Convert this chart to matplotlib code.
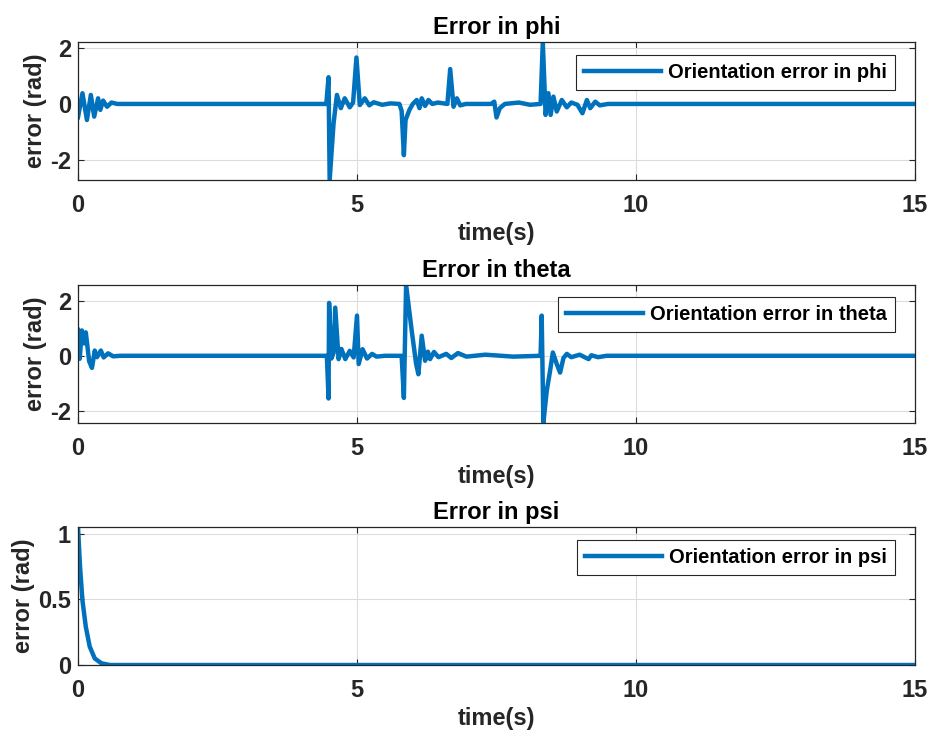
import matplotlib
matplotlib.use('Agg')
import matplotlib.pyplot as plt

plt.rcParams['font.family'] = ['Liberation Sans', 'DejaVu Sans']
plt.rcParams['font.weight'] = 'bold'
plt.rcParams['axes.unicode_minus'] = False

# (time in s, error in rad)
t_phi = [0.00, 0.08, 0.16, 0.23, 0.29, 0.36, 0.40, 0.45, 0.52, 0.60, 0.70,
         4.45, 4.49, 4.51, 4.58, 4.64, 4.71, 4.78, 4.87, 4.93, 4.99, 5.05, 5.14, 5.22, 5.30, 5.45, 5.60,
         5.76, 5.80, 5.84, 5.87, 5.94, 6.00, 6.07, 6.12, 6.16, 6.22, 6.28, 6.35, 6.45, 6.62,
         6.67, 6.73, 6.79, 6.85, 6.95, 7.40, 7.46, 7.50, 7.56, 7.65, 7.90, 8.10, 8.29,
         8.33, 8.38, 8.43, 8.47, 8.52, 8.58, 8.67, 8.76, 8.84, 8.95, 9.04, 9.12, 9.18, 9.27, 9.35, 9.50, 15.0]
e_phi = [-0.47, 0.38, -0.57, 0.32, -0.45, 0.20, -0.21, 0.12, -0.10, 0.05, 0.00,
         0.00, 0.95, -2.70, -0.69, 0.32, -0.15, 0.20, -0.12, 0.05, 1.65, -0.04, 0.20, -0.05, 0.06, -0.03, 0.02,
         0.00, -0.25, -1.82, -0.57, -0.21, 0.00, 0.14, -0.15, 0.20, -0.07, 0.14, 0.00, 0.05, 0.00,
         1.24, -0.10, 0.20, -0.05, 0.00, 0.00, 0.08, -0.48, -0.15, 0.00, 0.05, -0.03, 0.00,
         2.20, -0.39, 0.38, -0.39, 0.26, -0.27, 0.14, -0.12, 0.05, -0.03, -0.33, 0.14, -0.15, 0.08, -0.05, 0.00, 0.00]

t_theta = [0.00, 0.03, 0.07, 0.11, 0.14, 0.20, 0.25, 0.30, 0.34, 0.41, 0.46, 0.54, 0.63, 0.75,
           4.46, 4.49, 4.50, 4.54, 4.58, 4.61, 4.67, 4.72, 4.79, 4.87, 4.94, 5.00, 5.03, 5.10, 5.18, 5.27, 5.35,
           5.50, 5.80, 5.84, 5.88, 5.98, 6.06, 6.10, 6.16, 6.22, 6.27, 6.31, 6.38, 6.46, 6.60, 6.69, 6.81, 6.96, 7.30, 7.80,
           8.29, 8.31, 8.34, 8.40, 8.46, 8.51, 8.58, 8.64, 8.70, 8.76, 8.84, 8.99, 9.15, 9.20, 9.32, 9.47, 9.60, 15.0]
e_theta = [0.94, -0.11, 0.92, 0.45, 0.85, -0.20, -0.44, 0.19, -0.05, 0.19, -0.06, 0.09, -0.02, 0.00,
           0.00, -1.55, 1.92, -0.10, 0.10, 1.75, -0.12, 0.25, -0.12, 0.18, -0.06, 1.46, -0.30, 0.24, -0.10, 0.07, -0.03,
           0.00, 0.00, -1.53, 2.57, 0.92, -0.30, -0.67, 0.73, -0.18, 0.15, -0.12, 0.14, -0.05, 0.07, -0.08, 0.10, -0.03, 0.04, -0.03,
           0.00, 1.46, -2.44, -1.28, -0.55, 0.12, -0.30, -0.61, -0.08, 0.07, -0.05, 0.04, -0.12, 0.02, -0.05, 0.00, 0.00, 0.00]

t_psi = [0.00, 0.036, 0.08, 0.14, 0.21, 0.30, 0.42, 0.57, 15.0]
e_psi = [1.05, 0.75, 0.49, 0.29, 0.14, 0.05, 0.013, 0.00, 0.00]

titles = ['Error in phi', 'Error in theta', 'Error in psi']
legends = ['Orientation error in phi', 'Orientation error in theta', 'Orientation error in psi']
yticks = [[-2, 0, 2], [-2, 0, 2], [0, 0.5, 1]]
yticklabels = [['-2', '0', '2'], ['-2', '0', '2'], ['0', '0.5', '1']]
xticks = [0, 5, 10, 15]

series = [(t_phi, e_phi), (t_theta, e_theta), (t_psi, e_psi)]
bottoms = [0.7548, 0.4237, 0.0940]
leg_anchor = [(0.976, 0.906), (0.976, 0.913), (0.976, 0.906)]

blue = '#0072BD'
dark = '#262626'

fig = plt.figure(figsize=(9.33, 7.34), dpi=100)

for i in range(3):
    ax = fig.add_axes([0.0836, bottoms[i], 0.8971, 0.188])
    t, e = series[i]
    ax.plot(t, e, color=blue, linewidth=3.2, label=legends[i])
    ax.set_xlim(0, 15)
    ax.set_ylim(min(e), max(e))
    ax.set_xticks(xticks)
    ax.set_xticklabels([str(x) for x in xticks])
    ax.set_yticks(yticks[i])
    ax.set_yticklabels(yticklabels[i])
    ax.grid(True, color='#dcdcdc', linewidth=0.8)
    ax.set_axisbelow(True)
    ax.tick_params(direction='in', length=4, width=0.8, colors=dark, labelsize=17,
                   top=True, right=True)
    ax.tick_params(axis='x', pad=10)
    ax.tick_params(axis='y', pad=5)
    for s in ax.spines.values():
        s.set_color(dark)
        s.set_linewidth(0.9)
    ax.set_title(titles[i], fontsize=17, fontweight='bold', pad=6)
    ax.set_xlabel('time(s)', fontsize=17, fontweight='bold', labelpad=4, color=dark)
    ax.set_ylabel('error (rad)', fontsize=17, fontweight='bold', labelpad=2, color=dark)
    leg = ax.legend(loc='upper right', bbox_to_anchor=leg_anchor[i], borderaxespad=0,
                    prop={'size': 14.5, 'weight': 'bold'}, handlelength=3.8, handletextpad=0.35,
                    borderpad=0.4, fancybox=False, framealpha=1, edgecolor=dark)
    leg.get_frame().set_linewidth(0.8)

fig.savefig('out.png', dpi=100)
